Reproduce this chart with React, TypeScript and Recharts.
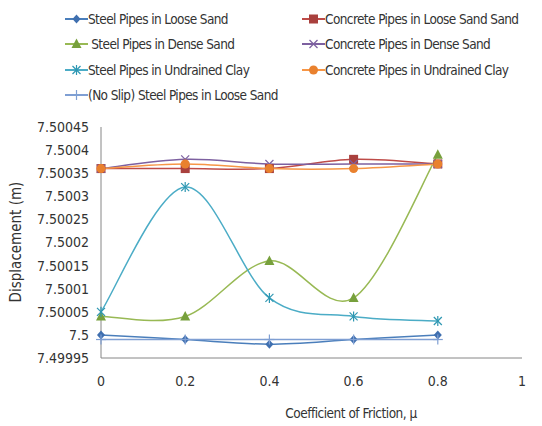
import React from 'react';
import { LineChart, Line, XAxis, YAxis } from 'recharts';

const FONT = "'Liberation Sans Narrow', 'DejaVu Sans Condensed', 'Liberation Sans', sans-serif";

const COLORS = {
  steelLoose: '#4A7EBB',
  concreteLoose: '#BE4B48',
  steelDense: '#98B954',
  concreteDense: '#7D60A0',
  steelClay: '#4BACC6',
  concreteClay: '#F79646',
  noSlip: '#7F9FD3',
  axis: '#868686',
  text: '#333333',
};

// coefficient of friction
const friction = [0, 0.2, 0.4, 0.6, 0.8];

// displacement (m)
const steelLoose = [7.5, 7.49999, 7.49998, 7.49999, 7.5];
const concreteLoose = [7.50036, 7.50036, 7.50036, 7.50038, 7.50037];
const steelDense = [7.50004, 7.50004, 7.50016, 7.50008, 7.50039];
const concreteDense = [7.50036, 7.50038, 7.50037, 7.50037, 7.50037];
const steelClay = [7.50005, 7.50032, 7.50008, 7.50004, 7.50003];
const concreteClay = [7.50036, 7.50037, 7.50036, 7.50036, 7.50037];
const noSlip = [7.49999, 7.49999, 7.49999, 7.49999, 7.49999];

const xTicks = [0, 0.2, 0.4, 0.6, 0.8, 1];
const yTicks = [7.49995, 7.5, 7.50005, 7.5001, 7.50015, 7.5002, 7.50025, 7.5003, 7.50035, 7.5004, 7.50045];

const data = friction.map((mu, i) => ({
  mu,
  steelLoose: steelLoose[i],
  concreteLoose: concreteLoose[i],
  steelDense: steelDense[i],
  concreteDense: concreteDense[i],
  steelClay: steelClay[i],
  concreteClay: concreteClay[i],
  noSlip: noSlip[i],
}));

// Excel-style smoothed line (Catmull-Rom as bezier)
const excelCurve = (context: any) => {
  let pts: number[][] = [];
  return {
    areaStart() {},
    areaEnd() {},
    lineStart() { pts = []; },
    point(x: number, y: number) { pts.push([+x, +y]); },
    lineEnd() {
      if (!pts.length) return;
      context.moveTo(pts[0][0], pts[0][1]);
      for (let i = 0; i < pts.length - 1; i++) {
        const p0 = pts[Math.max(i - 1, 0)];
        const p1 = pts[i];
        const p2 = pts[i + 1];
        const p3 = pts[Math.min(i + 2, pts.length - 1)];
        context.bezierCurveTo(
          p1[0] + (p2[0] - p0[0]) / 6, p1[1] + (p2[1] - p0[1]) / 6,
          p2[0] - (p3[0] - p1[0]) / 6, p2[1] - (p3[1] - p1[1]) / 6,
          p2[0], p2[1]
        );
      }
    },
  };
};

type Shape = 'diamond' | 'square' | 'triangle' | 'cross' | 'star' | 'circle' | 'plus';

const Marker = ({ shape, x, y, color }: { shape: Shape; x: number; y: number; color: string }) => {
  switch (shape) {
    case 'diamond':
      return <polygon points={`${x},${y - 4.5} ${x + 4},${y} ${x},${y + 4.5} ${x - 4},${y}`} fill={color} />;
    case 'square':
      return <rect x={x - 4.5} y={y - 4.5} width={9} height={9} fill={color} />;
    case 'triangle':
      return <polygon points={`${x},${y - 5.5} ${x + 5},${y + 4} ${x - 5},${y + 4}`} fill={color} />;
    case 'cross':
      return (
        <g stroke={color} strokeWidth={1.2}>
          <line x1={x - 4} y1={y - 4} x2={x + 4} y2={y + 4} />
          <line x1={x - 4} y1={y + 4} x2={x + 4} y2={y - 4} />
        </g>
      );
    case 'star':
      return (
        <g stroke={color} strokeWidth={1.2}>
          <line x1={x - 4} y1={y - 4} x2={x + 4} y2={y + 4} />
          <line x1={x - 4} y1={y + 4} x2={x + 4} y2={y - 4} />
          <line x1={x} y1={y - 5} x2={x} y2={y + 5} />
        </g>
      );
    case 'circle':
      return <circle cx={x} cy={y} r={4.5} fill={color} />;
    case 'plus':
      return (
        <g stroke={color} strokeWidth={1.2}>
          <line x1={x - 5} y1={y} x2={x + 5} y2={y} />
          <line x1={x} y1={y - 5} x2={x} y2={y + 5} />
        </g>
      );
  }
  return null;
};

const makeDot = (shape: Shape, color: string) => (props: any) => (
  <Marker key={props.key ?? `${shape}-${props.index}`} shape={shape} x={props.cx} y={props.cy} color={color} />
);

const SERIES: { key: string; name: string; color: string; marker: string; shape: Shape }[] = [
  { key: 'steelLoose', name: 'Steel Pipes in Loose Sand', color: COLORS.steelLoose, marker: '#3F6FAF', shape: 'diamond' },
  { key: 'concreteLoose', name: 'Concrete Pipes in Loose Sand Sand', color: COLORS.concreteLoose, marker: '#A9403D', shape: 'square' },
  { key: 'steelDense', name: ' Steel Pipes in Dense Sand', color: COLORS.steelDense, marker: '#77A03C', shape: 'triangle' },
  { key: 'concreteDense', name: 'Concrete Pipes in Dense Sand', color: COLORS.concreteDense, marker: '#7D60A0', shape: 'cross' },
  { key: 'steelClay', name: 'Steel Pipes in Undrained Clay', color: COLORS.steelClay, marker: '#2E97B2', shape: 'star' },
  { key: 'concreteClay', name: 'Concrete Pipes in Undrained Clay', color: COLORS.concreteClay, marker: '#E9812E', shape: 'circle' },
  { key: 'noSlip', name: '(No Slip) Steel Pipes in Loose Sand', color: COLORS.noSlip, marker: '#7F9FD3', shape: 'plus' },
];

const LEGEND_ROWS = [19, 44, 70, 95];
const LEGEND_COLS = [65, 302];

const fmt = (v: number) => parseFloat(v.toFixed(5)).toString();

const App: React.FC = () => {
  return (
    <div style={{ position: 'absolute', left: 0, top: 0, width: 542, height: 426, background: '#fff', fontFamily: FONT }}>
      <svg width={542} height={110} style={{ position: 'absolute', left: 0, top: 0 }}>
        {SERIES.map((s, i) => {
          const x = LEGEND_COLS[i % 2];
          const y = LEGEND_ROWS[Math.floor(i / 2)];
          return (
            <g key={s.key}>
              <line x1={x} y1={y} x2={x + 23} y2={y} stroke={s.color} strokeWidth={2} />
              <Marker shape={s.shape} x={x + 11.5} y={y} color={s.marker} />
              <text
                x={x + 23}
                y={y}
                dy="0.35em"
                fontSize={13.5}
                letterSpacing={-0.6}
                fill={COLORS.text}
                fontFamily={FONT}
                style={{ whiteSpace: 'pre' }}
              >
                {s.name}
              </text>
            </g>
          );
        })}
      </svg>
      <LineChart width={542} height={426} data={data} margin={{ top: 127, right: 20, bottom: 0, left: 0 }}>
        <XAxis
          dataKey="mu"
          type="number"
          domain={[0, 1]}
          ticks={xTicks}
          height={68}
          stroke={COLORS.axis}
          tickSize={0}
          tickMargin={18}
          tick={{ fill: COLORS.text, fontSize: 14, fontFamily: FONT }}
          label={{
            content: () => (
              <text x={351} y={418} textAnchor="middle" fontSize={13.5} letterSpacing={-0.5} fill={COLORS.text} fontFamily={FONT}>
                Coefficient of Friction, μ
              </text>
            ),
          }}
        />
        <YAxis
          type="number"
          domain={[7.49995, 7.50045]}
          ticks={yTicks}
          tickFormatter={fmt}
          width={101}
          stroke={COLORS.axis}
          tickSize={0}
          tickMargin={12}
          interval={0}
          allowDataOverflow
          tick={{ fill: COLORS.text, fontSize: 14, fontFamily: FONT }}
          label={{
            content: () => (
              <text x={16} y={242} transform="rotate(-90 16 242)" textAnchor="middle" dy="0.35em" fontSize={15} fill={COLORS.text} fontFamily={FONT}>
                Displacement (m)
              </text>
            ),
          }}
        />
        {SERIES.map((s) => (
          <Line
            key={s.key}
            dataKey={s.key}
            name={s.name}
            type={excelCurve as any}
            stroke={s.color}
            strokeWidth={1.5}
            dot={makeDot(s.shape, s.marker)}
            activeDot={false}
            isAnimationActive={false}
          />
        ))}
      </LineChart>
    </div>
  );
};

export default App;
